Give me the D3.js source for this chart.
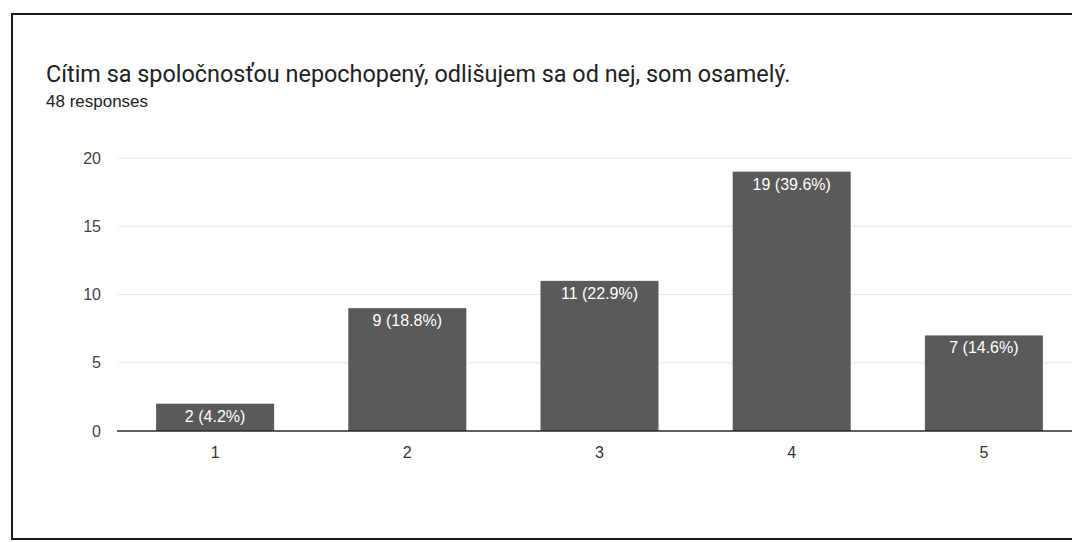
<!DOCTYPE html>
<html>
<head>
<meta charset="utf-8">
<title>Cítim sa spoločnosťou nepochopený</title>
<script src="https://cdnjs.cloudflare.com/ajax/libs/d3/7.8.5/d3.min.js"></script>
<style>
  body { margin: 0; background: #fff; }
  svg { display: block; font-family: Roboto, Arial, sans-serif; }
</style>
</head>
<body>
<div id="chart"></div>
<script>
// data
const categories = ["1", "2", "3", "4", "5"];
const counts = [2, 9, 11, 19, 7];
const percents = ["4.2%", "18.8%", "22.9%", "39.6%", "14.6%"];
const yTicks = [0, 5, 10, 15, 20];

const title = "Cítim sa spoločnosťou nepochopený, odlišujem sa od nej, som osamelý.";
const subtitle = "48 responses";

const width = 1072, height = 542;
const chartFont = "'Liberation Sans', Arial, sans-serif";

const svg = d3.select("#chart")
  .append("svg")
  .attr("width", width)
  .attr("height", height);

// card border (runs off the right edge like the scan)
svg.append("rect")
  .attr("x", 12).attr("y", 14)
  .attr("width", 1100).attr("height", 525)
  .attr("fill", "#fff")
  .attr("stroke", "#1a1a1a")
  .attr("stroke-width", 2);

svg.append("text")
  .attr("x", 46).attr("y", 82)
  .attr("font-size", 23.4)
  .attr("fill", "#202124")
  .text(title);

svg.append("text")
  .attr("x", 46).attr("y", 107)
  .attr("font-size", 17)
  .attr("font-family", chartFont)
  .attr("fill", "#202124")
  .text(subtitle);

const x = d3.scaleBand()
  .domain(categories)
  .range([119, 1080])
  .paddingInner(0.386)
  .paddingOuter(0.193);

const y = d3.scaleLinear()
  .domain([0, 20])
  .range([431, 158]);

// gridlines
svg.append("g")
  .selectAll("line")
  .data(yTicks.filter(d => d > 0))
  .enter()
  .append("line")
  .attr("x1", 118).attr("x2", 1072)
  .attr("y1", d => y(d)).attr("y2", d => y(d))
  .attr("stroke", "#e8e8e8")
  .attr("stroke-width", 1);

// y axis labels
const yAxis = svg.append("g")
  .attr("transform", "translate(101,0)")
  .call(d3.axisLeft(y).tickValues(yTicks).tickSize(0).tickPadding(0));
yAxis.select(".domain").remove();
yAxis.selectAll("text")
  .attr("font-size", 16)
  .attr("font-family", chartFont)
  .attr("fill", "#444");

// bars
const data = categories.map((c, i) => ({ cat: c, value: counts[i], pct: percents[i] }));

svg.append("g")
  .selectAll("rect")
  .data(data)
  .enter()
  .append("rect")
  .attr("x", d => x(d.cat))
  .attr("y", d => y(d.value))
  .attr("width", x.bandwidth())
  .attr("height", d => y(0) - y(d.value))
  .attr("fill", "#5a5a5a");

// value labels inside bars
svg.append("g")
  .selectAll("text")
  .data(data)
  .enter()
  .append("text")
  .attr("x", d => x(d.cat) + x.bandwidth() / 2)
  .attr("y", d => y(d.value) + 18)
  .attr("text-anchor", "middle")
  .attr("font-size", 16)
  .attr("font-family", chartFont)
  .attr("fill", "#fff")
  .text(d => `${d.value} (${d.pct})`);

// x axis
const xAxis = svg.append("g")
  .attr("transform", `translate(0,${y(0)})`)
  .call(d3.axisBottom(x).tickSize(0).tickPadding(16));
xAxis.select(".domain")
  .attr("d", "M117,0H1072")
  .attr("stroke", "#2a2a2a")
  .attr("stroke-width", 1.5);
xAxis.selectAll("text")
  .attr("font-size", 16)
  .attr("font-family", chartFont)
  .attr("fill", "#333");
</script>
</body>
</html>
